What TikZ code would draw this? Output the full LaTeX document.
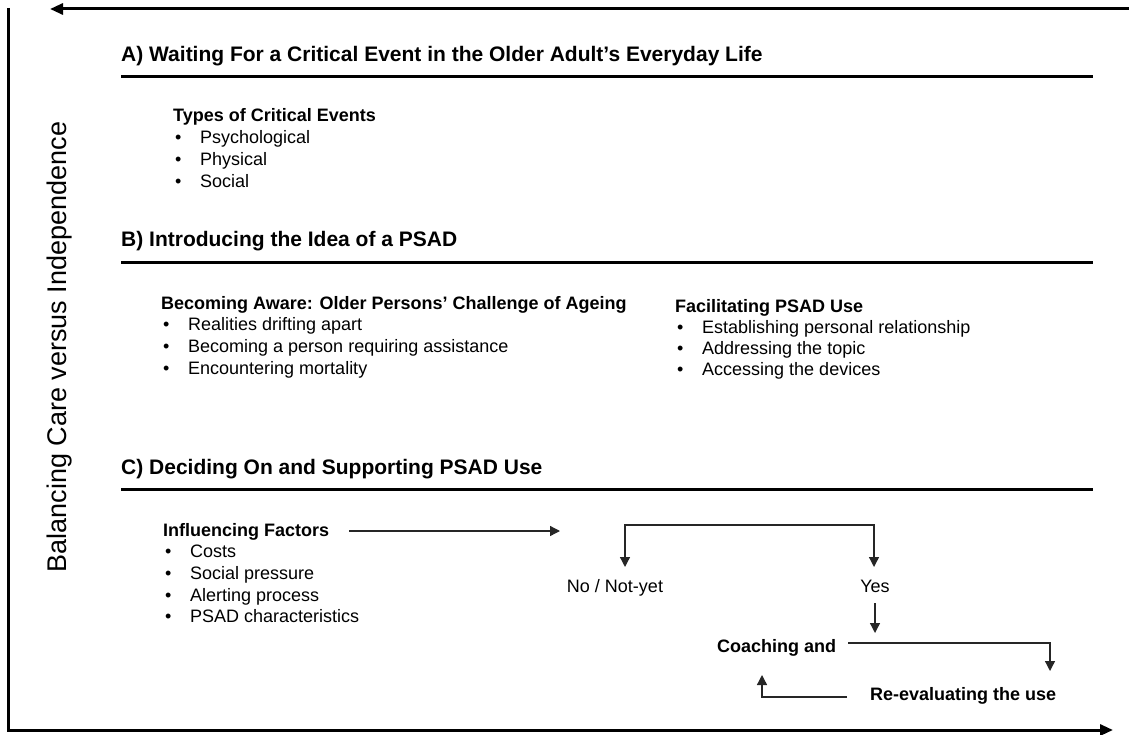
\documentclass[tikz,border=0pt]{standalone}
\usepackage{fontspec}
\setmainfont{Liberation Sans}
\usetikzlibrary{arrows.meta,calc}

\newcommand{\bitem}[1]{\hspace*{2pt}\makebox[25pt][l]{\textbullet}#1}

\tikzset{
  heading/.style={anchor=base west, inner sep=0pt, font=\fontsize{21}{25}\selectfont\bfseries},
  subhead/.style={anchor=base west, inner sep=0pt, font=\fontsize{18}{21.6}\selectfont\bfseries},
  item/.style={anchor=base west, inner sep=0pt, font=\fontsize{18}{21.6}\selectfont},
  answer/.style={anchor=base, inner sep=0pt, font=\fontsize{18}{21.6}\selectfont},
  rule/.style={line width=3pt},
  frame/.style={line width=3pt, -{Triangle[length=13pt,width=11pt]}},
  flow/.style={line width=1.3pt, black!85, -{Triangle[length=10pt,width=10pt]}},
  flowboth/.style={line width=1.3pt, black!85, {Triangle[length=10pt,width=10pt]}-{Triangle[length=10pt,width=10pt]}},
}

\begin{document}
\begin{tikzpicture}[x=1pt,y=-1pt]
	\useasboundingbox (0,0) rectangle (1129,735);

	% frame and axis
	\draw[frame] (1129,9) -- (50,9);
	\draw[frame] (8,8) -- (8,730) -- (1113,730);
	\node[rotate=90, anchor=base, inner sep=0pt, font=\fontsize{27}{30}\selectfont] (axis) at (66,347) {Balancing Care versus Independence};

	% A
	\node[heading] (headA) at (121,62) {A) Waiting For a Critical Event in the Older Adult’s Everyday Life};
	\draw[rule] (121,77) -- (1093,77);
	\node[subhead] (types) at (173,122) {Types of Critical Events};
	\foreach \txt [count=\i] in {Psychological, Physical, Social}
		\node[item] (types\i) at (173,122+21.8*\i) {\bitem{\txt}};

	% B
	\node[heading] (headB) at (121,247) {B) Introducing the Idea of a PSAD};
	\draw[rule] (121,263) -- (1093,263);
	\node[subhead] (aware) at (161,309) {Becoming Aware: Older Persons’ Challenge of Ageing};
	\foreach \txt [count=\i] in {Realities drifting apart, Becoming a person requiring assistance, Encountering mortality}
		\node[item] (aware\i) at (161,309+21.7*\i) {\bitem{\txt}};
	\node[subhead] (facil) at (675,312) {Facilitating PSAD Use};
	\foreach \txt [count=\i] in {Establishing personal relationship, Addressing the topic, Accessing the devices}
		\node[item] (facil\i) at (675,312+21*\i) {\bitem{\txt}};

	% C
	\node[heading] (headC) at (121,474) {C) Deciding On and Supporting PSAD Use};
	\draw[rule] (121,489) -- (1093,489);
	\node[subhead] (infl) at (163,536) {Influencing Factors};
	\foreach \txt [count=\i] in {Costs, Social pressure, Alerting process, PSAD characteristics}
		\node[item] (infl\i) at (163,536+21.7*\i) {\bitem{\txt}};

	\node[answer] (no) at (615,592) {No / Not-yet};
	\node[answer] (yes) at (875,592) {Yes};
	\node[subhead] (coach) at (717,652) {Coaching and};
	\node[subhead] (reeval) at (870,700) {Re-evaluating the use};

	\coordinate (split) at (560,531);
	\coordinate (noin) at (625,567);
	\coordinate (yesin) at (874,567);
	\coordinate (bar) at (0,525);
	\coordinate (reevalin) at (1050,671);
	\coordinate (coachin) at (762,675);

	\draw[flow] ($(infl.base east)+(20,-5)$) -- (split);
	\draw[flowboth] (noin) -- (noin |- bar) -- (yesin |- bar) -- (yesin);
	\draw[flow] ($(yes.base)+(0,11)$) -- ++(0,30);
	\draw[flow] ($(coach.base east)+(12,-9)$) -| (reevalin);
	\draw[flow] ($(reeval.base west)+(-23,-3)$) -| (coachin);
\end{tikzpicture}
\end{document}
